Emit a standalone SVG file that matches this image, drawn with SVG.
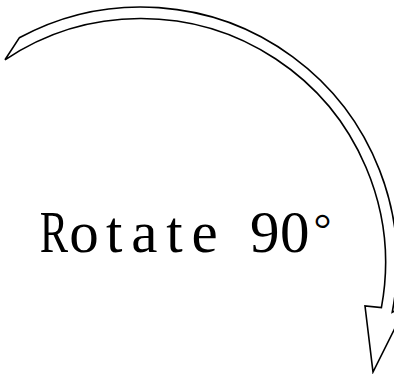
<svg xmlns="http://www.w3.org/2000/svg" width="394" height="374" viewBox="0 0 394 374">
  <style>
    .arrow { fill: #ffffff; stroke: #000000; stroke-width: 1.6; stroke-linejoin: miter; }
    .label { font-family: "Liberation Serif", "DejaVu Serif", serif; font-size: 59px; fill: #000000; text-anchor: middle; }
  </style>
  <rect width="394" height="374" fill="#ffffff"/>
  <g id="rotate-arrow">
    <path class="arrow" d="M 5,59.8 A 244.5,244.5 0 0 1 381.4,307.6 L 365,306 L 373,372 L 406,306 L 392.2,312.3 A 256,256 0 0 0 19.3,37.8 Z"/>
  </g>
  <g id="label-node">
    <text class="label" transform="scale(0.72,1)" x="75" y="252">R</text>
    <text class="label" x="84.1 114.2 144.3 174.4 204.5 234.6 264.7 294.8" y="252">otate 90</text>
    <text class="label" x="322.5" y="244" style="font-size:45px">°</text>
  </g>
</svg>
